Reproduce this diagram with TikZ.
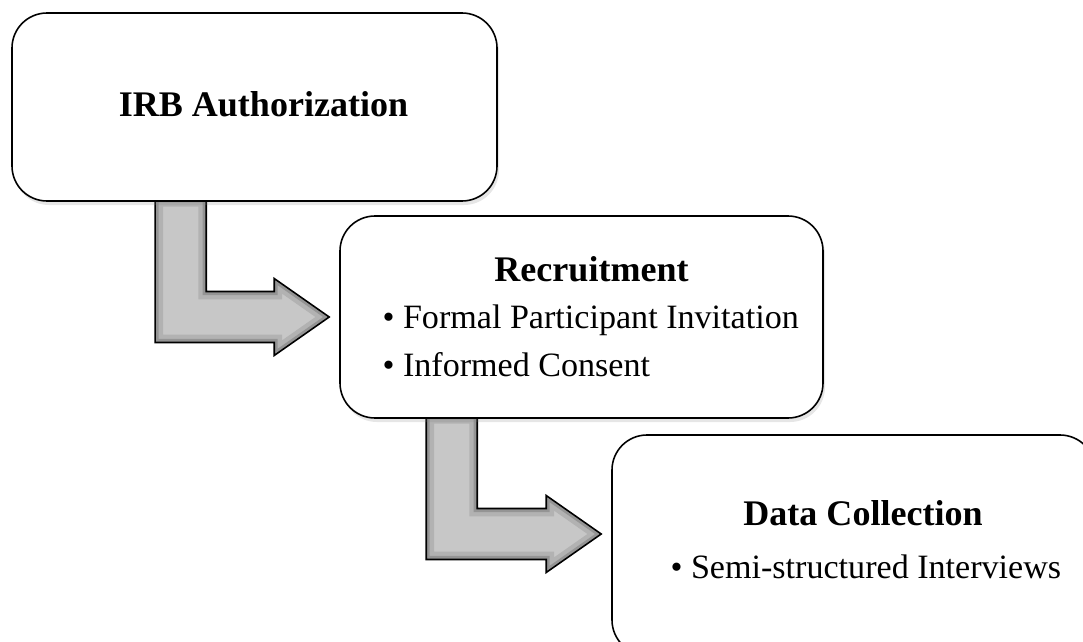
\documentclass[tikz,border=0pt]{standalone}
\usepackage{fontspec}
\setmainfont{Liberation Serif}
\usepackage{xcolor}
\usetikzlibrary{positioning, calc, shadows, backgrounds}

\tikzset{
  stage/.style={rectangle, rounded corners=7mm, draw, line width=0.9pt, fill=white,
    drop shadow={opacity=0.2, shadow xshift=0.4mm, shadow yshift=-0.8mm}},
  elbow/.style={draw, line width=0.9pt, line join=miter},
  heading/.style={font=\fontsize{20.5}{24}\selectfont\bfseries, inner sep=0pt},
  item/.style={font=\fontsize{19.4}{23}\selectfont, inner sep=0pt},
}

\begin{document}
\begin{tikzpicture}[x=0.2mm, y=-0.2mm]
    \useasboundingbox (0,0) rectangle (1083,642);
    \clip (0,0) rectangle (1083,642);

    % the three stages
    \node[stage, minimum width=97mm, minimum height=37.6mm] (irb) at (254.5,107) {};
    \node[stage, minimum width=96.6mm, minimum height=40.4mm] (rec) at (581.5,317) {};
    \node[stage, minimum width=96.6mm, minimum height=44mm] (data) at (853.5,545) {};

    \node[heading, anchor=base] (irbtitle) at ($(irb.center)+(9,10)$) {IRB Authorization};

    \node[heading, anchor=base] (rectitle) at ($(rec.center)+(10,-36)$) {Recruitment};
    \node[item, anchor=base west] (invite) at ($(rec.west)+(43,11)$) {\textbullet\ Formal Participant Invitation};
    \node[item, anchor=base west] (consent) at ($(rec.west)+(43,59)$) {\textbullet\ Informed Consent};

    \node[heading, anchor=base] (datatitle) at ($(data.center)+(9.5,-20)$) {Data Collection};
    \node[item, anchor=base west] (interviews) at ($(data.west)+(59,33)$) {\textbullet\ Semi-structured Interviews};

    % elbow arrows between the stages
    \coordinate (t1) at ($(irb.south west)+(169.5,0)$);
    \coordinate (p1) at ($(rec.west)+(-10,0)$);
    \coordinate (t2) at ($(rec.south west)+(112.5,0)$);
    \coordinate (p2) at ($(data.west)+(-10,-11)$);

    \begin{scope}[on background layer]
        \foreach \t/\p in {t1/p1, t2/p2} {
            \path[save path=\elbowpath] ($(\t)+(-25.5,-3)$) -- ($(\t |- \p)+(-25.5,25.5)$)
                -- ($(\p)+(-55,25.5)$) -- ($(\p)+(-55,38.5)$) -- (\p)
                -- ($(\p)+(-55,-38.5)$) -- ($(\p)+(-55,-25.5)$)
                -- ($(\t |- \p)+(25.5,-25.5)$) -- ($(\t)+(25.5,-3)$) -- cycle;
            % bevelled grey body
            \begin{scope}
                \clip[use path=\elbowpath];
                \fill[black!22, use path=\elbowpath];
                \draw[black!30, line width=9pt, line join=miter, use path=\elbowpath];
                \draw[black!42, line width=4pt, line join=miter, use path=\elbowpath];
            \end{scope}
            \draw[elbow, use path=\elbowpath];
        }
    \end{scope}
\end{tikzpicture}
\end{document}
